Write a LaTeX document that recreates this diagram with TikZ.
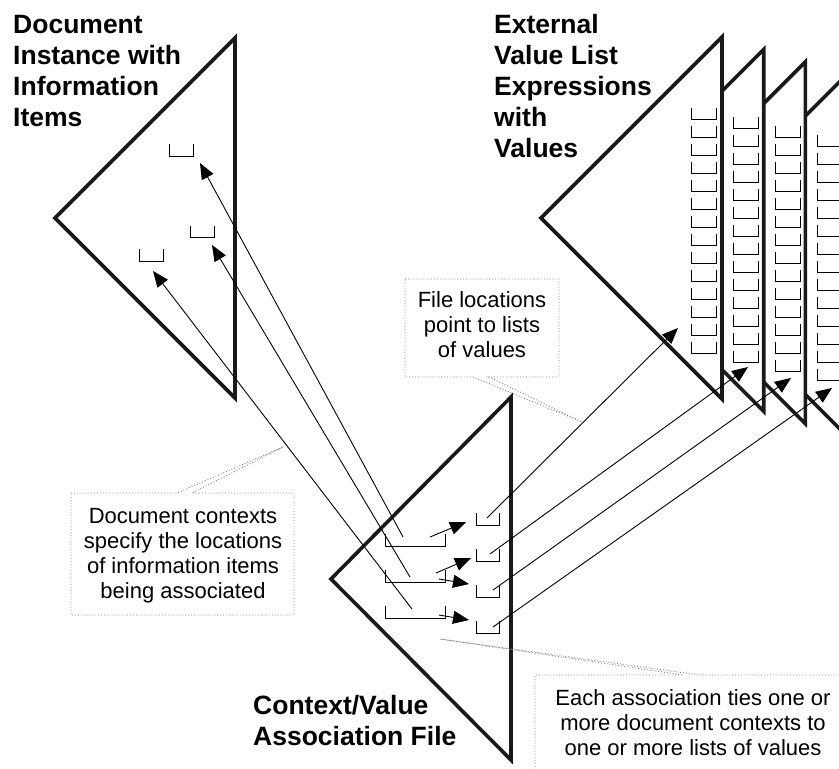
\documentclass[tikz,border=0pt]{standalone}
\usepackage{fontspec}
\setmainfont{Liberation Sans}
\usetikzlibrary{arrows.meta}
\newcommand\mybk[4]{\draw[brk] (#1,#2) -- ++(0,#4) -- ++(#3,0) -- ++(0,-#4);}
\tikzset{
  tri/.style={draw=black!90, line width=3.6pt, line join=miter, fill=white},
  brk/.style={draw=black, line width=1pt},
  lnk/.style={draw=black, line width=0.9pt, -{Triangle[length=16pt,width=13pt]}},
  callout/.style={draw=black!50, line width=0.9pt, dash pattern=on 0.9pt off 2pt},
  title/.style={font=\fontsize{26.5}{31}\selectfont\bfseries, align=left, anchor=base west, inner sep=0pt},
  note/.style={font=\fontsize{22}{25}\selectfont, align=center, anchor=base, inner sep=0pt}
}
\begin{document}
\begin{tikzpicture}[x=1pt,y=-1pt]
\useasboundingbox (0,0) rectangle (839,769);
\fill[white] (0,0) rectangle (839,769);

% ---- document instance triangle
\coordinate (dT) at (235,38);
\coordinate (dL) at (55,218);
\coordinate (dB) at (235,398);
\draw[tri] (dT) -- (dL) -- (dB) -- cycle;
\mybk{169}{144}{24}{12}
\mybk{190}{226}{24}{11}
\mybk{139}{249}{24}{12}

% ---- external value list triangles (back to front)
\foreach \i in {3,2,1,0}{
  \draw[tri] ({722+41.7*\i},{37+12.4*\i}) -- ++(-181,181) -- ++(181,181) -- cycle;
}
\foreach \i in {0,...,3}{
  \foreach \k in {0,...,13}{
    \mybk{691+42*\i}{108+9*\i+18*\k}{25}{11}
  }
}

% ---- context/value association triangle
\coordinate (cT) at (511,397);
\coordinate (cL) at (331,579);
\coordinate (cB) at (511,760);
\draw[tri] (cT) -- (cL) -- (cB) -- cycle;
\mybk{385}{534}{60}{12}
\mybk{385}{570}{60}{12}
\mybk{385}{606}{60}{12}
\mybk{476}{513}{23}{12}
\mybk{476}{549}{23}{12}
\mybk{476}{585}{23}{12}
\mybk{476}{621}{23}{12}

% ---- callouts
\draw[callout] (71,493) -- (177,493) -- (283,447) -- (192,493) -- (294,493) -- (294,615) -- (71,615) -- cycle;
\draw[callout] (405,279) -- (559,279) -- (559,377) -- (489,377) -- (582,422) -- (473,377) -- (405,377) -- cycle;
\draw[callout] (535,790) -- (535,675) -- (683,675) -- (440,639) -- (700,675) -- (851,675) -- (851,790);

\node[note] (ndoc) at (183,598) {Document contexts\\specify the locations\\of information items\\being associated};
\node[note] (nfile) at (482,357) {File locations\\point to lists\\of values};
\node[note] (nassoc) at (693,755) {Each association ties one or\\more document contexts to\\one or more lists of values};

% ---- connector end points
\coordinate (d1) at (200,163);
\coordinate (d2) at (212,245);
\coordinate (d3) at (153,271);
\coordinate (L1) at (403,537);
\coordinate (L2) at (410,577);
\coordinate (L3) at (412,609);
\coordinate (S1) at (487,518);
\coordinate (S2) at (490,554);
\coordinate (S3) at (493,590);
\coordinate (S4) at (493,627);
\coordinate (e1) at (678,328);
\coordinate (e2) at (748,367);
\coordinate (e3) at (791,378);
\coordinate (e4) at (832,388);
\coordinate (a1s) at (430,537);
\coordinate (a1t) at (466,522);
\coordinate (a2s) at (436,573);
\coordinate (a2t) at (471,558);
\coordinate (a3s) at (439,579);
\coordinate (a3t) at (469,584);
\coordinate (a4s) at (439,615);
\coordinate (a4t) at (469,620);

\draw[lnk] (L1) -- (d1);
\draw[lnk] (L2) -- (d2);
\draw[lnk] (L3) -- (d3);
\draw[lnk] (S1) -- (e1);
\draw[lnk] (S2) -- (e2);
\draw[lnk] (S3) -- (e3);
\draw[lnk] (S4) -- (e4);
\draw[lnk] (a1s) -- (a1t);
\draw[lnk] (a2s) -- (a2t);
\draw[lnk] (a3s) -- (a3t);
\draw[lnk] (a4s) -- (a4t);

% ---- titles
\node[title] (tdoc) at (13,126) {Document\\Instance with\\Information\\Items};
\node[title] (text) at (494,157) {External\\Value List\\Expressions\\with\\Values};
\node[title] (tctx) at (253,745) {Context/Value\\Association File};
\end{tikzpicture}
\end{document}
